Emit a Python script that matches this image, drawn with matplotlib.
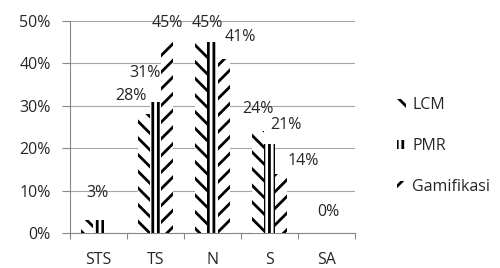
import matplotlib
matplotlib.use("Agg")
import matplotlib.pyplot as plt
import numpy as np
from matplotlib.patches import Patch

plt.rcParams['font.family'] = ['Open Sans', 'DejaVu Sans']
plt.rcParams['hatch.linewidth'] = 2.0
plt.rcParams['hatch.color'] = 'black'

categories = ["STS", "TS", "N", "S", "SA"]
series = ["LCM", "PMR", "Gamifikasi"]
lcm = [3, 28, 45, 24, 0]
pmr = [3, 31, 45, 21, 0]
gam = [0, 45, 41, 14, 0]
values = [lcm, pmr, gam]
hatches = ["\\\\", "|||", "//"]

# which labels show (excel hid the overlapping ones) and their nudge in pixels
show = [[1, 1, 1, 1, 0],
        [0, 1, 0, 1, 1],
        [0, 1, 1, 1, 0]]
nudge = [[(10, 27), (-13, 18), (6, 19), (0, 22), (0, 0)],
         [(0, 0), (-10, 29), (0, 0), (16, 19), (2, 21)],
         [(0, 0), (0, 19), (16, 22), (22, 13), (0, 0)]]

txt = '#262626'
fs = 11.5
fig = plt.figure(figsize=(5, 2.68), dpi=100)
ax = fig.add_axes([0.14, 0.1306, 0.57, 0.791])

x = np.arange(len(categories))
w = 0.2
for i, vals in enumerate(values):
    xs = x + (i - 1) * w
    ax.bar(xs, vals, w, color='white', edgecolor='black', linewidth=0,
           hatch=hatches[i], zorder=3)
    for j, v in enumerate(vals):
        if show[i][j]:
            dx, dy = nudge[i][j]
            ax.annotate(f"{v}%", (xs[j], v), xytext=(dx, dy),
                        textcoords='offset pixels', ha='center', va='center',
                        fontsize=fs, color=txt)

ax.set_xlim(-0.5, len(categories) - 0.5)
ax.set_ylim(0, 50)
ax.set_yticks(range(0, 51, 10))
ax.set_yticklabels([f"{t}%" for t in range(0, 51, 10)])
ax.yaxis.grid(True, color='#a6a6a6', linewidth=0.8, zorder=0)
ax.set_axisbelow(True)

ax.set_xticks(x)
ax.set_xticklabels(categories)
ax.set_xticks(np.arange(-0.5, len(categories)), minor=True)
ax.tick_params(axis='x', which='major', length=0, pad=14, labelsize=fs, labelcolor=txt)
ax.tick_params(axis='x', which='minor', length=4, color='#888888', width=0.8)
ax.tick_params(axis='y', length=6, color='#888888', width=0.8, pad=8,
               labelsize=fs, labelcolor=txt)

for s in ['top', 'right']:
    ax.spines[s].set_visible(False)
for s in ['left', 'bottom']:
    ax.spines[s].set_color('#888888')
    ax.spines[s].set_linewidth(0.8)

handles = [Patch(facecolor='white', edgecolor='black', linewidth=0, hatch=h)
           for h in hatches]
fig.legend(handles, series, loc='upper left', bbox_to_anchor=(0.765, 0.69),
           frameon=False, fontsize=fs, handlelength=0.55, handleheight=0.55,
           handletextpad=0.4, labelspacing=1.55, labelcolor=txt)

fig.savefig("out.png", dpi=100)
